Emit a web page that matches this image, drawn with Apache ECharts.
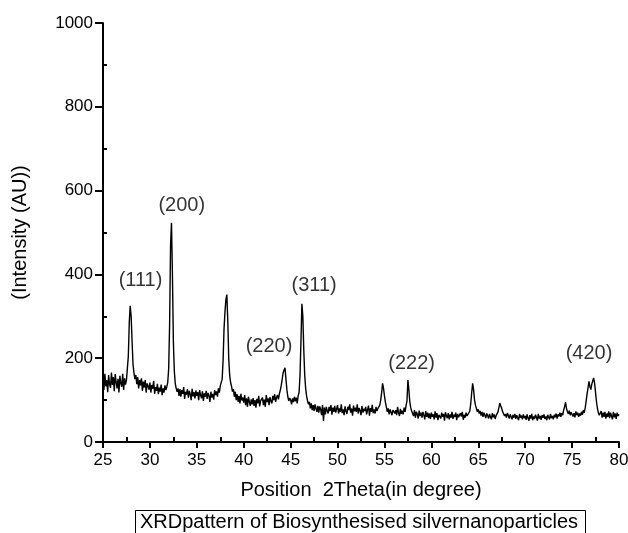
<!DOCTYPE html>
<html>
<head>
<meta charset="utf-8">
<script src="https://cdn.jsdelivr.net/npm/echarts@6/dist/echarts.min.js"></script>
<style>
  html, body { margin: 0; padding: 0; background: #fff; }
  #chart { width: 628px; height: 533px; }
</style>
</head>
<body>
<div id="chart"></div>
<script>
// scan: 25.0 .. 80.0 deg, step 0.1 (one row per degree)
const scanStart = 25
const scanStep = 0.1
const intensity = [
  152,124,163,133,148,119,160,138,129,166,
  136,155,121,162,143,128,151,118,158,140,
  132,163,124,152,137,148,150,205,285,325,
  300,240,185,165,150,160,138,155,128,148,
  135,152,122,144,130,148,118,140,133,125,
  142,118,136,127,146,115,131,122,139,114,
  130,120,137,112,128,118,135,124,132,142,
  175,280,470,523,400,240,170,140,128,120,
  128,110,126,108,124,115,131,103,120,113,
  126,106,122,114,100,127,109,119,104,123,
  110,119,100,124,112,104,121,98,116,108,
  122,103,117,110,96,120,106,115,101,124,
  112,121,108,128,118,134,130,150,195,270,
  310,340,352,290,200,160,142,133,120,126,
  108,120,100,114,96,110,92,115,99,106,
  94,112,88,104,84,108,96,86,102,90,
  105,86,100,82,103,92,110,85,98,94,
  106,88,101,84,112,95,104,88,107,98,
  92,110,100,114,96,106,112,102,115,124,
  135,150,165,172,177,150,125,108,98,105,
  100,90,104,95,108,97,106,92,110,118,
  160,240,330,300,220,160,128,110,98,90,
  96,80,92,76,88,74,90,80,72,86,
  70,85,78,64,88,50,82,66,84,74,
  68,84,74,88,65,82,72,86,70,79,
  88,68,80,72,90,69,78,64,85,74,
  67,84,76,90,70,80,63,87,73,82,
  72,90,68,81,75,64,86,70,79,74,
  84,66,77,87,63,81,72,89,69,78,
  68,84,74,80,76,88,100,118,140,128,
  110,95,84,72,80,66,78,71,64,76,
  80,68,76,64,84,70,62,79,67,75,
  66,82,72,86,98,148,125,96,82,74,
  70,62,76,58,72,66,56,75,62,70,
  58,72,64,54,74,60,70,57,68,55,
  70,60,66,54,73,58,69,52,65,61,
  56,70,60,67,51,71,62,57,69,54,
  66,58,72,55,65,60,70,52,67,59,
  57,69,61,72,53,65,58,70,62,66,
  60,74,92,118,140,125,100,88,80,72,
  78,68,74,63,72,60,70,64,57,68,
  63,56,67,60,54,69,59,66,55,63,
  66,72,82,93,86,80,72,68,62,67,
  58,69,63,56,66,60,54,65,58,67,
  55,64,60,52,67,58,63,54,66,57,
  62,53,66,57,51,64,56,67,52,61,
  55,65,59,51,67,56,62,53,64,58,
  66,55,61,52,65,59,54,67,57,62,
  54,65,59,68,56,66,61,70,60,69,
  64,76,84,95,80,73,67,75,64,71,
  70,61,69,59,73,64,70,60,68,63,
  72,65,76,70,82,98,115,130,145,132,
  125,138,146,153,140,118,96,80,70,64,
  62,74,58,70,60,72,56,68,60,73,
  57,70,62,54,72,59,68,55,70,62,
  66
]

const peakNames = ['(111)', '(200)', '(220)', '(311)', '(222)', '(420)']
const peakLabelX = [29.0, 33.4, 42.7, 47.5, 57.9, 76.8]
const peakLabelY = [385, 564, 227, 373, 188, 212]

const xMinorTicks = [27.5, 32.5, 37.5, 42.5, 47.5, 52.5, 57.5, 62.5, 67.5, 72.5, 77.5]
const yMinorTicks = [100, 300, 500, 700, 900]

const font = 'Liberation Sans, Arial, sans-serif'

const trace = intensity.map((v, i) => [+(scanStart + i * scanStep).toFixed(1), v])

const chart = echarts.init(document.getElementById('chart'))
chart.setOption({
  animation: false,
  backgroundColor: '#fff',
  textStyle: { fontFamily: font },
  title: {
    text: 'XRDpattern of Biosynthesised silvernanoparticles',
    left: 135,
    top: 510,
    padding: [2, 8, 6, 5],
    borderColor: '#000',
    borderWidth: 1,
    textStyle: { fontFamily: font, fontSize: 20, fontWeight: 'normal', color: '#000' }
  },
  grid: { left: 103, right: 9, top: 23, bottom: 91, outerBoundsMode: 'none', containLabel: false },
  xAxis: [{
    type: 'value',
    min: 25,
    max: 80,
    interval: 5,
    name: 'Position  2Theta(in degree)',
    nameLocation: 'middle',
    nameGap: 38,
    nameTextStyle: { fontSize: 20, color: '#000' },
    axisLine: { lineStyle: { color: '#000', width: 2 } },
    axisTick: { length: 6, lineStyle: { color: '#000', width: 2 } },
    axisLabel: { color: '#000', fontSize: 17, margin: 10 },
    splitLine: { show: false }
  }, {
    type: 'value',
    position: 'bottom',
    min: 25,
    max: 80,
    axisLine: { show: false },
    axisTick: { inside: true, length: 5, customValues: xMinorTicks, lineStyle: { color: '#000', width: 2 } },
    axisLabel: { show: false },
    splitLine: { show: false }
  }],
  yAxis: [{
    type: 'value',
    min: 0,
    max: 1000,
    interval: 200,
    name: '(Intensity (AU))',
    nameLocation: 'middle',
    nameRotate: 90,
    nameGap: 73,
    nameTextStyle: { fontSize: 20, color: '#000' },
    axisLine: { show: true, lineStyle: { color: '#000', width: 2 } },
    axisTick: { show: true, length: 8, lineStyle: { color: '#000', width: 2 } },
    axisLabel: { color: '#000', fontSize: 17, margin: 10, formatter: v => String(v) },
    splitLine: { show: false }
  }, {
    type: 'value',
    position: 'left',
    min: 0,
    max: 1000,
    axisLine: { show: false },
    axisTick: { show: true, inside: true, length: 4, customValues: yMinorTicks, lineStyle: { color: '#000', width: 2 } },
    axisLabel: { show: false },
    splitLine: { show: false }
  }],
  series: [{
    type: 'line',
    data: trace,
    showSymbol: false,
    sampling: null,
    lineStyle: { color: '#000', width: 1.4 },
    silent: true
  }, {
    type: 'scatter',
    data: peakNames.map((n, i) => ({ name: n, value: [peakLabelX[i], peakLabelY[i]] })),
    symbolSize: 0,
    silent: true,
    label: {
      show: true,
      position: 'inside',
      formatter: p => p.name,
      color: '#000',
      fontSize: 20,
      fontFamily: font
    }
  }]
})
</script>
</body>
</html>
